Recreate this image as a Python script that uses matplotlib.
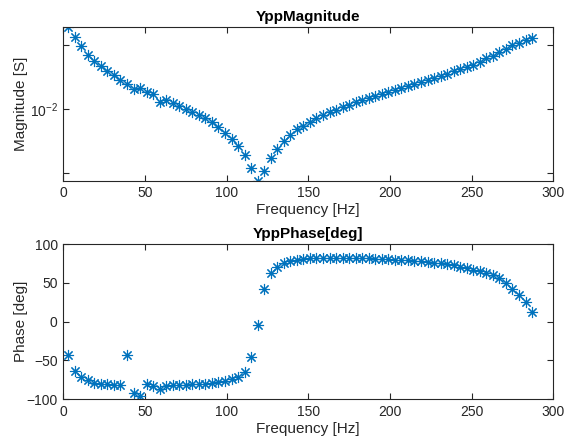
import numpy as np
import matplotlib
matplotlib.use("Agg")
import matplotlib.pyplot as plt

plt.rcParams['font.family'] = ['Liberation Sans', 'DejaVu Sans']

# frequency points [Hz]
freq = [3, 7, 11, 15, 19, 23, 27, 31, 35, 39, 43, 47, 51, 55, 59, 63, 67, 71,
        75, 79, 83, 87, 91, 95, 99, 103, 107, 111, 115, 119, 123, 127, 131, 135,
        139, 143, 147, 151, 155, 159, 163, 167, 171, 175, 179, 183, 187, 191,
        195, 199, 203, 207, 211, 215, 219, 223, 227, 231, 235, 239, 243, 247,
        251, 255, 259, 263, 267, 271, 275, 279, 283, 287]

# |Ypp| [S]
mag = [0.0442, 0.0370, 0.0310, 0.0267, 0.0236, 0.0217, 0.0199, 0.0185, 0.0169,
       0.0157, 0.01445, 0.01455, 0.01355, 0.0132, 0.01145, 0.01174, 0.01125,
       0.0106, 0.01005, 0.00953, 0.00899, 0.00846, 0.00787, 0.00720, 0.00655,
       0.00585, 0.00510, 0.00435, 0.00343, 0.00275, 0.00328, 0.00414, 0.00490,
       0.00565, 0.00632, 0.00695, 0.00743, 0.00798, 0.00852, 0.00892, 0.00948,
       0.00993, 0.01036, 0.01086, 0.01133, 0.01174, 0.01216, 0.01268, 0.01314,
       0.01362, 0.01412, 0.01463, 0.01516, 0.01571, 0.01629, 0.01687, 0.01749,
       0.01821, 0.01888, 0.01971, 0.02052, 0.02138, 0.02233, 0.02355, 0.02498,
       0.02622, 0.02782, 0.02950, 0.03150, 0.03324, 0.03508, 0.03590]

# phase [deg]
phase = [-43.3, -63.5, -71.2, -75.5, -78.5, -79.8, -80.7, -81.1, -81.1, -42.9,
         -91.4, -95.3, -79.8, -82.4, -87.1, -82.4, -81.5, -81.1, -81.1, -80.7,
         -80.3, -79.8, -79.0, -77.7, -76.8, -74.2, -71.2, -64.4, -45.1, -3.9,
         42.1, 63.1, 70.0, 75.1, 78.3, 79.6, 80.7, 81.5, 82.0, 82.3, 82.4, 82.4,
         82.4, 82.0, 82.0, 81.5, 81.5, 81.1, 80.7, 80.3, 79.8, 79.4, 79.0, 78.1,
         77.7, 76.8, 76.0, 75.1, 73.8, 72.5, 70.8, 69.1, 67.0, 65.2, 62.7, 59.7,
         56.2, 50.2, 41.6, 33.9, 25.3, 12.4]

W, H = 574, 440
fig = plt.figure(figsize=(W / 100, H / 100), dpi=100)

blue = '#0072BD'
dark = '#262626'
star = (8, 2, 0)

ax1 = fig.add_axes([63.3 / W, 1 - 180.7 / H, 490 / W, 154 / H])
ax2 = fig.add_axes([63.3 / W, 1 - 399.3 / H, 490 / W, 155.3 / H])

ax1.plot(freq, mag, linestyle='none', marker=star, markersize=8,
         markeredgewidth=0.8, color=blue)
ax1.set_yscale('log')
ax1.set_ylim(min(mag), max(mag))
ax1.set_yticks([10 ** -2.5, 1e-2, 10 ** -1.5])
ax1.set_yticklabels(['', r'$\mathregular{10^{-2}}$', ''])
ax1.minorticks_off()
ax1.set_title('YppMagnitude', fontsize=11, fontweight='bold', pad=4)
ax1.set_ylabel('Magnitude [S]', fontsize=11, color=dark)

ax2.plot(freq, phase, linestyle='none', marker=star, markersize=8,
         markeredgewidth=0.8, color=blue)
ax2.set_ylim(-100, 100)
ax2.set_yticks([-100, -50, 0, 50, 100])
ax2.set_title('YppPhase[deg]', fontsize=11, fontweight='bold', pad=4)
ax2.set_ylabel('Phase [deg]', fontsize=11, color=dark)

for ax in (ax1, ax2):
    ax.set_xlim(0, 300)
    ax.set_xticks([0, 50, 100, 150, 200, 250, 300])
    ax.set_xlabel('Frequency [Hz]', fontsize=11, color=dark, labelpad=2)
    ax.yaxis.set_label_coords(-0.072, 0.5)
    ax.tick_params(direction='in', top=True, right=True, length=4,
                   width=0.8, labelsize=10, colors=dark, pad=4)
    for s in ax.spines.values():
        s.set_color(dark)
        s.set_linewidth(0.8)

fig.savefig('out.png', dpi=100)
